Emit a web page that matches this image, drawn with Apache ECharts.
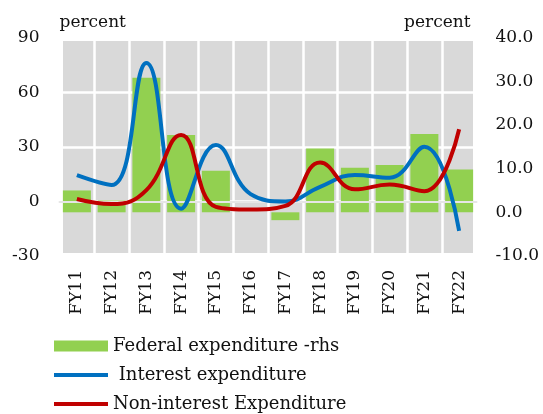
<!DOCTYPE html>
<html>
<head>
<meta charset="utf-8">
<script src="https://cdn.jsdelivr.net/npm/echarts@6/dist/echarts.min.js"></script>
<style>
  html, body { margin: 0; padding: 0; background: #fff; }
  #chart { width: 543px; height: 414px; }
</style>
</head>
<body>
<div id="chart"></div>
<script>
// Fiscal years on the category axis
const categories = ['FY11', 'FY12', 'FY13', 'FY14', 'FY15', 'FY16', 'FY17', 'FY18', 'FY19', 'FY20', 'FY21', 'FY22'];

// Federal expenditure growth, percent (right-hand scale)
const federalExpenditure = [5.0, 2.7, 30.8, 17.7, 9.5, 0, -1.8, 14.6, 10.2, 10.8, 17.9, 9.8];

// Interest expenditure growth, percent (left-hand scale)
const interestExpenditure = [14.4, 9.0, 76.0, -4.0, 31.0, 4.0, 0.0, 8.0, 14.5, 13.0, 30.0, -16.2];

// Non-interest expenditure growth, percent (left-hand scale)
const nonInterestExpenditure = [1.3, -1.5, 6.2, 36.5, -3.0, -4.5, -2.5, 21.3, 6.6, 9.2, 5.6, 39.6];

// Axis ranges
const leftAxis = { min: -30, max: 90, step: 30 };
const rightAxis = { min: -10, max: 40, step: 10 };

const FONT = 'DejaVu Serif';
const TEXT = '#111111';
const HIDDEN_SYMBOL = { color: 'rgba(0,0,0,0)', borderColor: 'rgba(0,0,0,0)', borderWidth: 0 };

const chart = echarts.init(document.getElementById('chart'), null, { renderer: 'canvas' });

chart.setOption({
  animation: false,
  backgroundColor: '#ffffff',
  textStyle: { fontFamily: FONT, color: TEXT },
  grid: [
    { left: 59.5, right: 66.5, top: 37.5, bottom: 158, containLabel: false },
    // grey plotting panel behind the columns
    { left: 63, right: 70, top: 41, bottom: 161, show: true, backgroundColor: '#d9d9d9', borderWidth: 0, z: -1 }
  ],
  legend: {
    orient: 'vertical',
    left: 52,
    top: 337,
    height: 100,
    padding: 0,
    itemWidth: 54,
    itemHeight: 11,
    itemGap: 11,
    textStyle: { fontFamily: FONT, fontSize: 18, color: TEXT },
    data: [
      { name: 'Federal expenditure -rhs', icon: 'rect' },
      { name: ' Interest expenditure', itemStyle: HIDDEN_SYMBOL, lineStyle: { width: 4, color: '#0070c0' } },
      { name: 'Non-interest Expenditure', itemStyle: HIDDEN_SYMBOL, lineStyle: { width: 4, color: '#c00000' } }
    ]
  },
  xAxis: [
    {
      type: 'category',
      gridIndex: 0,
      data: categories,
      boundaryGap: true,
      z: 3,
      axisLine: { show: true, onZero: true, lineStyle: { color: '#e6e6e6', width: 2 } },
      axisTick: { show: false },
      axisLabel: {
        interval: 0, rotate: 90, margin: 14,
        fontFamily: FONT, fontSize: 17, color: TEXT
      },
      splitLine: { show: true, interval: 0, lineStyle: { color: '#ffffff', width: 2.5 } }
    },
    { type: 'category', gridIndex: 1, show: false, data: categories }
  ],
  yAxis: [
    {
      type: 'value',
      gridIndex: 0,
      min: leftAxis.min, max: leftAxis.max, interval: leftAxis.step,
      name: 'percent',
      nameLocation: 'end',
      nameGap: 15,
      nameTextStyle: { fontFamily: FONT, fontSize: 17, color: TEXT, align: 'left', verticalAlign: 'middle' },
      axisLine: { show: false },
      axisTick: { show: false },
      axisLabel: { margin: 20, fontFamily: FONT, fontSize: 17, color: TEXT },
      splitLine: { show: true, lineStyle: { color: '#ffffff', width: 2.5 } }
    },
    {
      type: 'value',
      gridIndex: 0,
      position: 'right',
      min: rightAxis.min, max: rightAxis.max, interval: rightAxis.step,
      name: 'percent',
      nameLocation: 'end',
      nameGap: 15,
      nameTextStyle: { fontFamily: FONT, fontSize: 17, color: TEXT, align: 'right', verticalAlign: 'middle', padding: [0, 6, 0, 0] },
      axisLine: { show: false },
      axisTick: { show: false },
      axisLabel: {
        margin: 19, fontFamily: FONT, fontSize: 17, color: TEXT,
        formatter: v => v.toFixed(1)
      },
      splitLine: { show: false }
    },
    { type: 'value', gridIndex: 1, show: false }
  ],
  series: [
    {
      name: 'Federal expenditure -rhs',
      type: 'bar',
      xAxisIndex: 0,
      yAxisIndex: 1,
      barWidth: 28,
      itemStyle: { color: '#92d050' },
      data: federalExpenditure,
      z: 2
    },
    {
      name: ' Interest expenditure',
      type: 'line',
      xAxisIndex: 0,
      yAxisIndex: 0,
      smooth: 0.45,
      symbol: 'none',
      lineStyle: { color: '#0070c0', width: 4 },
      itemStyle: { color: '#0070c0' },
      data: interestExpenditure,
      z: 5
    },
    {
      name: 'Non-interest Expenditure',
      type: 'line',
      xAxisIndex: 0,
      yAxisIndex: 0,
      smooth: 0.45,
      symbol: 'none',
      lineStyle: { color: '#c00000', width: 4 },
      itemStyle: { color: '#c00000' },
      data: nonInterestExpenditure,
      z: 6
    }
  ]
});
</script>
</body>
</html>
